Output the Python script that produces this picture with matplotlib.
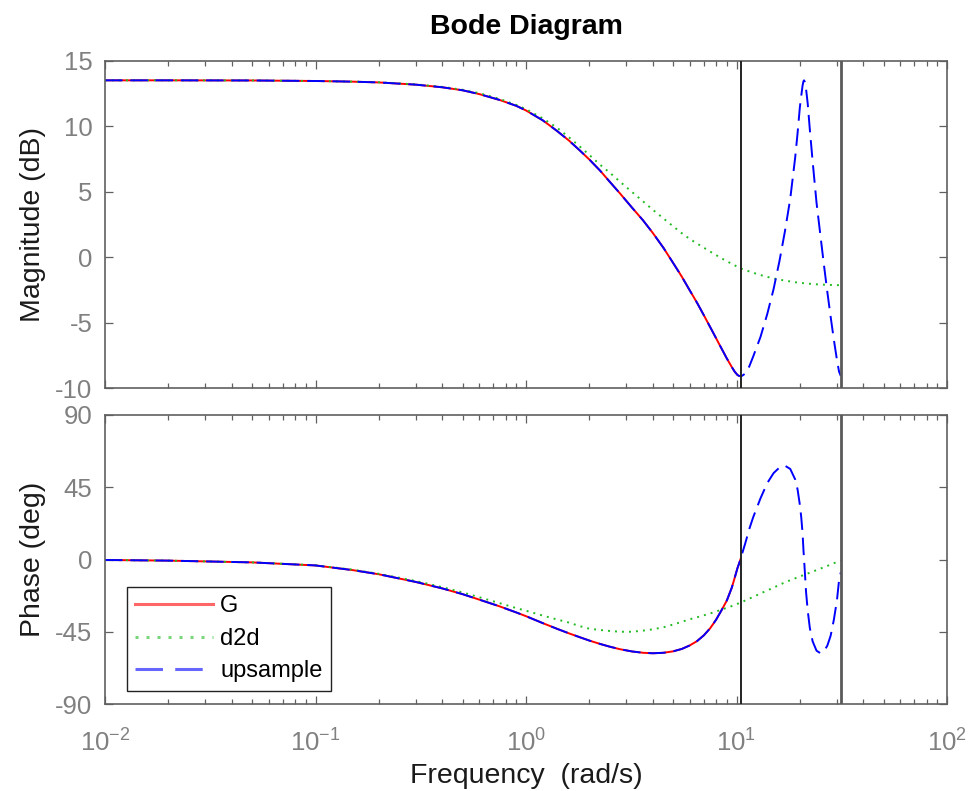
import matplotlib
matplotlib.use("Agg")
import matplotlib.pyplot as plt
from matplotlib.ticker import LogLocator, LogFormatterSciNotation, NullFormatter, MultipleLocator

plt.rcParams['font.family'] = ['Liberation Sans', 'DejaVu Sans']
plt.rcParams['mathtext.fontset'] = 'custom'
plt.rcParams['mathtext.rm'] = 'Liberation Sans'
plt.rcParams['axes.unicode_minus'] = False

# G (Ts = 0.3), frequency in rad/s
w_g = [0.01, 0.02, 0.05, 0.1, 0.15, 0.2, 0.3, 0.4, 0.5, 0.6, 0.75, 0.9, 1.0, 1.2, 1.4,
       1.6, 1.8, 2.0, 2.25, 2.5, 2.8, 3.2, 3.6, 4.0, 4.5, 5.0, 5.5, 6.0, 6.5, 7.0,
       7.5, 8.0, 8.5, 9.0, 9.5, 9.8, 10.1, 10.3, 10.47]
mag_g = [13.5, 13.5, 13.49, 13.45, 13.40, 13.34, 13.17, 12.97, 12.74, 12.45, 12.0, 11.55,
         11.2, 10.45, 9.65, 8.9, 8.15, 7.45, 6.6, 5.75, 4.85, 3.75, 2.8, 1.85, 0.7, -0.45,
         -1.5, -2.55, -3.5, -4.45, -5.35, -6.2, -7.0, -7.75, -8.4, -8.75, -9.0, -9.08, -9.1]
ph_g = [-0.3, -0.7, -1.8, -3.7, -6.6, -9.2, -14.0, -18.0, -21.6, -25.0, -29.2, -33.0,
        -35.3, -39.6, -43.1, -46.0, -48.4, -50.5, -52.6, -54.3, -55.9, -57.3, -58.1, -58.4,
        -58.1, -57.2, -55.7, -53.5, -50.8, -47.2, -42.8, -37.5, -31.5, -25.5, -17.5, -11.5,
        -5.5, -2.3, 0.5]

# d2d (Ts = 0.1)
w_d = [0.01, 0.02, 0.05, 0.1, 0.15, 0.2, 0.3, 0.4, 0.5, 0.6, 0.75, 0.9, 1.0, 1.2, 1.4,
       1.6, 1.8, 2.0, 2.25, 2.5, 2.8, 3.2, 3.6, 4.0, 4.5, 5.0, 5.5, 6.0, 6.7, 7.5, 8.5,
       9.5, 10.47, 12, 13.5, 15, 17, 19, 21.5, 24, 27, 29.9, 31.4]
mag_d = [13.5, 13.5, 13.49, 13.45, 13.40, 13.35, 13.19, 13.0, 12.78, 12.52, 12.08, 11.62,
         11.3, 10.6, 9.9, 9.15, 8.45, 7.8, 7.05, 6.45, 5.75, 4.95, 4.25, 3.62, 2.95, 2.35,
         1.82, 1.38, 0.9, 0.42, -0.1, -0.52, -0.87, -1.2, -1.45, -1.63, -1.8, -1.92, -2.02,
         -2.08, -2.12, -2.14, -2.15]
ph_d = [-0.3, -0.7, -1.8, -3.6, -6.3, -8.9, -13.4, -17.2, -20.5, -23.5, -27.2, -30.3,
        -31.9, -34.9, -37.3, -39.3, -41.5, -43.1, -43.9, -44.5, -45.0, -45.0, -44.3, -43.5,
        -42.2, -40.5, -38.8, -37.2, -35.5, -33.6, -31.2, -29.0, -26.8, -23.3, -20.2, -17.5,
        -14.2, -11.7, -9.0, -6.6, -4.0, -1.6, -0.5]

# upsample (Ts = 0.1): follows G up to 10.47 rad/s, then these points
w_u_ext = [10.6, 11.0, 11.5, 12, 13, 14, 15, 16, 17, 18, 19, 19.5, 20, 20.3, 20.6, 20.8,
           20.94, 21.1, 21.4, 21.8, 22.3, 23, 24, 25, 26, 27, 28, 29, 30, 30.7, 31.3]
mag_u_ext = [-9.08, -8.9, -8.35, -7.6, -6.1, -4.35, -2.45, -0.3, 2.0, 4.45, 7.6, 9.45,
             11.45, 12.3, 13.1, 13.43, 13.5, 13.39, 12.84, 11.7, 9.75, 7.3, 4.15, 1.75,
             -0.55, -2.65, -4.55, -6.3, -7.85, -8.75, -9.08]
ph_u_ext = [3, 10, 19, 26.3, 38.1, 47.6, 53.8, 57.3, 58.4, 56.4, 49.9, 43.7, 34, 26.4,
            16.4, 6.0, 0, -6.9, -20.2, -32, -42.6, -51, -56.8, -58.3, -57.2, -53.7, -47.5,
            -37.6, -25.5, -13, -8]

# Nyquist frequencies pi/0.3 and pi/0.1
nyquist = [10.47, 31.42]

labels = ['G', 'd2d', 'upsample']

w_u = w_g + w_u_ext
mag_u = mag_g + mag_u_ext
ph_u = ph_g + ph_u_ext

tick_color = '#808080'
spine_color = '#606060'

fig = plt.figure(figsize=(9.72, 7.91), dpi=100)
ax1 = fig.add_axes([105 / 972, 1 - 388 / 791, 842 / 972, (388 - 60.7) / 791])
ax2 = fig.add_axes([105 / 972, 1 - 704 / 791, 842 / 972, (704 - 415) / 791], sharex=ax1)

dash = (0, (9, 4))
dots = (0, (1, 2.6))

for ax, g_vals, d_vals, u_vals in [(ax1, mag_g, mag_d, mag_u), (ax2, ph_g, ph_d, ph_u)]:
    ax.plot(w_g, g_vals, color='#ff0000', lw=1.4, label=labels[0])
    ax.plot(w_d, d_vals, color='#22bb22', lw=1.4, linestyle=dots, label=labels[1])
    ax.plot(w_u, u_vals, color='#0000ff', lw=1.4, linestyle=dash, label=labels[2])
    ax.axvline(nyquist[0], color='#222222', lw=1.4, zorder=3)
    ax.axvline(nyquist[1], color='#5a5a5a', lw=2.0, zorder=3)

    ax.set_xscale('log')
    ax.set_xlim(1e-2, 1e2)
    ax.xaxis.set_major_locator(LogLocator(base=10, numticks=10))
    ax.xaxis.set_minor_locator(LogLocator(base=10, subs=range(2, 10), numticks=20))
    ax.xaxis.set_minor_formatter(NullFormatter())
    ax.tick_params(which='both', direction='in', top=True, right=True,
                   color=spine_color, labelcolor=tick_color, labelsize=18.5, width=0.9)
    ax.tick_params(which='major', length=6)
    ax.tick_params(which='minor', length=3.6)
    ax.tick_params(axis='y', pad=9)
    ax.tick_params(axis='x', pad=18)
    for sp in ax.spines.values():
        sp.set_color(spine_color)
        sp.set_linewidth(1.2)

# Magnitude
ax1.set_ylim(-10, 15)
ax1.yaxis.set_major_locator(MultipleLocator(5))
ax1.tick_params(labelbottom=False)
ax1.set_ylabel('Magnitude (dB)', fontsize=20.5, color='#1a1a1a')
ax1.yaxis.set_label_coords(-0.07, 0.5)
ax1.set_title('Bode Diagram', fontsize=20.5, fontweight='bold', pad=19)

# Phase
ax2.set_ylim(-90, 90)
ax2.yaxis.set_major_locator(MultipleLocator(45))
ax2.xaxis.set_major_formatter(LogFormatterSciNotation())
ax2.set_ylabel('Phase (deg)', fontsize=20.5, color='#1a1a1a')
ax2.yaxis.set_label_coords(-0.07, 0.5)
ax2.set_xlabel('Frequency  (rad/s)', fontsize=20.5, color='#1a1a1a')
ax2.xaxis.set_label_coords(0.5, -0.205)

leg = ax2.legend(loc='lower left', bbox_to_anchor=(0.026, 0.046), fontsize=17,
                 frameon=True, fancybox=False, framealpha=1, edgecolor='#222222',
                 handlelength=3.3, handletextpad=0.3, borderpad=0.35, labelspacing=0.45,
                 borderaxespad=0)
leg.get_frame().set_linewidth(1.0)
for h in leg.legend_handles:
    h.set_alpha(0.6)
    h.set_linewidth(2.2)

fig.savefig('out.png', dpi=100, facecolor='white')
